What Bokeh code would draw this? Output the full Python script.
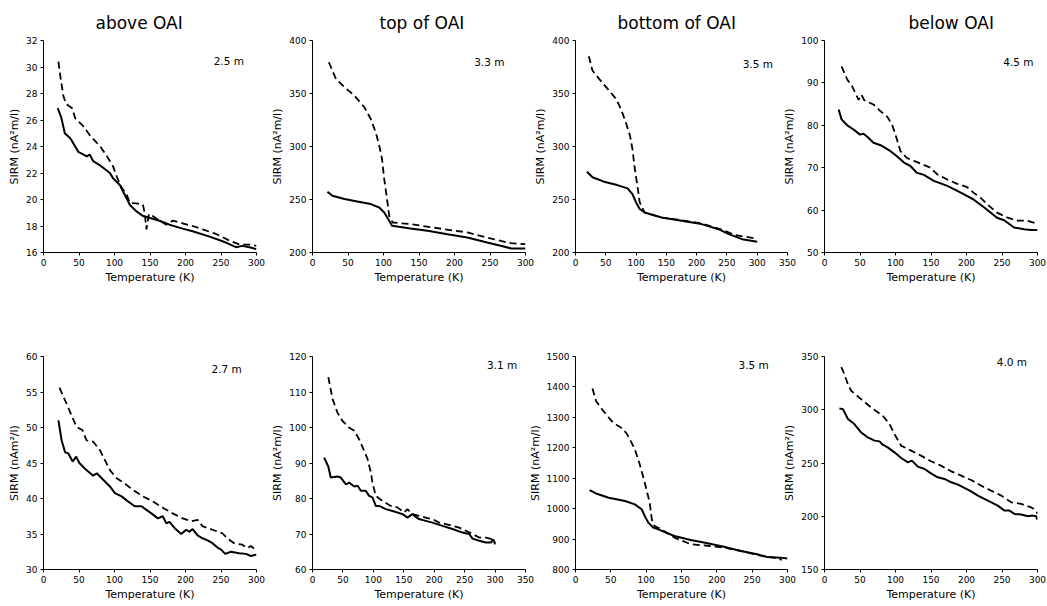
from bokeh.plotting import figure
from bokeh.layouts import row, column
from bokeh.models import Range1d, FixedTicker, Label, Title
from bokeh.embed import file_html
from bokeh.resources import INLINE

# ---------------- data ----------------
column_titles = ["above OAI", "top of OAI", "bottom of OAI", "below OAI"]
depths = ["2.5 m", "3.3 m", "3.5 m", "4.5 m", "2.7 m", "3.1 m", "3.5 m", "4.0 m"]
ylabels = ["SIRM (nA\u00b2m/l)", "SIRM (nA\u00b2m/l)", "SIRM (nA\u00b2m/l)", "SIRM (nA\u00b2m/l)",
           "SIRM (nAm\u00b2/l)", "SIRM (nA\u00b2m/l)", "SIRM (nA\u00b2m/l)", "SIRM (nAm\u00b2/l)"]
xlabel = "Temperature (K)"
x_max = [300, 300, 350, 300, 300, 350, 300, 300]
y_min = [16, 200, 200, 50, 30, 60, 800, 150]
y_max = [32, 400, 400, 100, 60, 120, 1500, 350]
y_step = [2, 50, 50, 10, 5, 10, 100, 50]
x_step = 50

# panel 1: above OAI 2.5 m
s1_T = [20, 25, 30, 38, 49, 61, 65, 70, 79, 93.5, 98, 107.5, 112, 117, 121.5, 131, 140, 150, 163.5, 177.5, 196, 210, 234, 257, 271, 280, 290, 300]
s1_M = [26.9, 26.2, 25.0, 24.6, 23.6, 23.25, 23.4, 22.9, 22.6, 22.0, 21.6, 21.1, 20.6, 20.1, 19.6, 19.1, 18.75, 18.6, 18.4, 18.1, 17.8, 17.6, 17.2, 16.75, 16.4, 16.5, 16.4, 16.25]
d1_T = [21, 24, 28, 32, 40, 45, 55, 66, 80, 89, 98, 103, 110, 117, 121.5, 131, 140, 142.5, 145, 148.5, 154, 163.5, 173, 182, 196, 210, 224, 243, 262, 276, 290, 300]
d1_M = [30.4, 29.2, 27.8, 27.2, 26.9, 26.1, 25.6, 24.8, 24.0, 23.3, 22.5, 21.75, 20.9, 20.4, 19.75, 19.7, 19.6, 19.0, 17.75, 18.9, 18.75, 18.4, 18.1, 18.4, 18.2, 18.0, 17.75, 17.4, 16.9, 16.6, 16.6, 16.5]

# panel 2: top of OAI 3.3 m
s2_T = [21, 28, 45, 63, 82, 94, 101, 108, 112, 138, 162, 190, 218, 246, 265, 280, 300]
s2_M = [257.3, 253.5, 250.4, 248.2, 245.7, 242.5, 237.8, 230.0, 225.2, 222.7, 220.5, 217.3, 214.2, 209.4, 206.3, 203.8, 203.8]
d2_T = [23, 33, 45, 59, 73, 82, 89, 94, 98, 101, 105, 108, 113, 138, 185, 218, 255, 279, 300]
d2_M = [379.5, 363.8, 356.0, 348.0, 337.0, 326.0, 313.4, 300.8, 288.0, 269.3, 250.4, 234.6, 228.3, 226.8, 222.0, 219.0, 212.6, 208.8, 207.9]

# panel 3: bottom of OAI 3.5 m
s3_T = [19, 28, 47, 69, 86, 94, 100, 106, 114, 142, 175, 208, 236, 253, 275, 300]
s3_M = [276.2, 271.0, 266.8, 263.6, 260.5, 255.0, 247.2, 241.0, 237.8, 233.0, 229.9, 226.8, 222.0, 217.3, 212.6, 210.1]
d3_T = [22, 28, 39, 53, 67, 75, 83, 90, 94, 98, 103, 106, 114, 142, 175, 208, 242, 264, 300]
d3_M = [385.2, 371.7, 363.8, 354.3, 344.9, 335.4, 322.8, 310.2, 297.6, 278.7, 259.8, 247.2, 237.8, 233.0, 230.4, 227.4, 221.5, 216.4, 213.0]

# panel 4: below OAI 4.5 m
s4_T = [20, 24, 32, 41, 50, 55, 61, 69, 79, 93, 102, 112, 121, 130, 140, 154, 173, 192, 210, 225, 243, 253, 267, 281, 291, 300]
s4_M = [83.7, 81.4, 80.0, 79.0, 77.8, 78.0, 77.2, 75.9, 75.3, 73.9, 72.7, 71.2, 70.4, 68.8, 68.3, 66.9, 65.7, 64.1, 62.5, 60.6, 58.2, 57.6, 55.9, 55.5, 55.3, 55.3]
d4_T = [24, 32, 39, 48, 52, 56, 69, 79, 88, 95, 100, 107, 116, 126, 135, 149, 159, 173, 187, 201, 210, 220, 229, 243, 258, 272, 286, 300]
d4_M = [93.9, 90.8, 89.2, 86.0, 87.2, 85.9, 84.9, 83.3, 82.1, 80.2, 77.8, 73.9, 72.3, 71.6, 71.0, 70.0, 68.4, 67.2, 66.2, 65.4, 64.1, 62.9, 61.4, 59.4, 58.2, 57.5, 57.5, 56.8]

# panel 5: above OAI 2.7 m
s5_T = [21, 25.5, 30.5, 35, 41, 46, 50.5, 60.5, 70, 75, 82, 86.5, 93.5, 100.5, 110, 119, 128.5, 138, 145, 152, 161, 168, 173, 177.5, 184.5, 194, 201, 205.5, 210, 217, 224, 231, 238, 245, 250, 256, 264, 275.5, 285, 292, 300]
s5_M = [51.0, 48.2, 46.5, 46.35, 45.2, 45.9, 45.0, 44.0, 43.2, 43.55, 42.85, 42.4, 41.7, 40.75, 40.3, 39.6, 38.9, 38.9, 38.4, 37.9, 37.2, 37.5, 36.5, 36.7, 35.85, 35.0, 35.6, 35.3, 35.7, 34.8, 34.4, 34.1, 33.7, 33.1, 32.8, 32.2, 32.5, 32.3, 32.2, 31.9, 32.1]
d5_T = [22.5, 30.5, 39.5, 46.5, 55, 60.5, 70, 79.5, 86.5, 93.5, 103, 114.5, 126, 140, 154, 168, 182, 196, 208, 217, 224, 238, 252, 259, 268.5, 280, 287, 292, 300]
d5_M = [55.6, 53.8, 51.7, 50.1, 49.6, 48.2, 48.0, 46.8, 45.4, 44.0, 42.85, 42.1, 41.2, 40.3, 39.6, 38.7, 37.9, 37.2, 36.8, 37.0, 36.1, 35.6, 35.1, 34.4, 33.7, 33.5, 33.0, 33.3, 32.7]

# panel 6: top of OAI 3.1 m
s6_T = [19, 26, 30, 41, 46.5, 55, 60, 68.5, 74, 79.5, 87.5, 93, 98.5, 104, 109.5, 120.5, 131.5, 148, 156, 164, 175, 186, 197, 213.5, 230, 246.5, 257.5, 263, 274, 285, 293, 297, 300]
s6_M = [91.5, 89.0, 85.9, 86.2, 85.9, 84.0, 84.5, 83.4, 83.6, 82.2, 82.2, 80.75, 80.3, 77.9, 77.9, 77.0, 76.5, 75.6, 74.6, 75.6, 74.2, 73.7, 73.2, 72.3, 71.4, 70.4, 70.0, 68.7, 68.1, 67.6, 67.6, 68.5, 67.4]
d6_T = [26, 33, 41, 49, 60, 68.5, 76.5, 85, 90.5, 96, 98.5, 104, 115, 128.5, 139.5, 150.5, 156, 164, 175, 186, 197, 208, 219, 230, 241, 252, 263, 274, 285, 296, 300]
d6_M = [114.2, 108.0, 104.2, 101.9, 100.0, 99.1, 96.7, 93.4, 91.1, 87.3, 84.5, 80.75, 79.3, 77.9, 77.5, 76.1, 77.0, 75.6, 75.1, 74.6, 74.2, 73.2, 72.8, 72.3, 71.8, 70.9, 70.0, 69.0, 69.0, 68.5, 67.1]

# panel 7: bottom of OAI 3.5 m
s7_T = [20, 29, 47, 70, 84, 93.5, 98, 103, 110, 117, 140, 163, 187, 210, 234, 257, 271, 290, 300]
s7_M = [1061, 1050, 1036, 1025, 1014, 998, 976, 954, 938, 932, 910, 897, 886, 875, 861, 850, 841, 839, 836]
d7_T = [24, 29, 39, 53, 64, 72, 77, 84, 91, 98, 105, 108, 112, 121, 140, 163, 187, 210, 234, 257, 280, 292]
d7_M = [1395, 1354, 1322, 1283, 1267, 1248, 1227, 1195, 1145, 1085, 1020, 965, 943, 932, 905, 883, 878, 872, 861, 848, 839, 832]

# panel 8: below OAI 4.0 m
s8_T = [21, 26, 33, 42, 51.5, 61, 70.5, 77.5, 82, 89, 98.5, 108, 117.5, 123, 131.5, 141, 150, 159.5, 169, 178.5, 188, 197, 206.5, 216, 225, 235, 244, 253.5, 260.5, 267.5, 277, 286.5, 293.5, 298, 300]
s8_M = [301.2, 300.6, 291.25, 286.6, 278.75, 274.0, 271.0, 270.3, 267.2, 264.7, 260.0, 254.7, 250.6, 252.2, 246.6, 244.4, 240.3, 236.6, 235.0, 231.9, 229.7, 226.6, 223.4, 219.4, 216.25, 213.1, 210.0, 205.3, 205.3, 202.2, 201.6, 200.0, 200.6, 200.0, 196.9]
d8_T = [23.5, 26, 33, 37.5, 51.5, 65.5, 82, 91.5, 98.5, 108, 122, 136, 150, 164, 178.5, 192.5, 206.5, 220.5, 235, 249, 263, 277, 291, 298, 300]
d8_M = [340.0, 336.6, 324.0, 317.8, 310.0, 302.2, 294.4, 286.6, 277.2, 266.25, 261.6, 256.9, 251.6, 247.5, 242.2, 238.1, 234.0, 228.75, 224.0, 219.4, 213.1, 211.6, 208.4, 205.3, 202.2]

solid = [(s1_T, s1_M), (s2_T, s2_M), (s3_T, s3_M), (s4_T, s4_M),
         (s5_T, s5_M), (s6_T, s6_M), (s7_T, s7_M), (s8_T, s8_M)]
dashed = [(d1_T, d1_M), (d2_T, d2_M), (d3_T, d3_M), (d4_T, d4_M),
          (d5_T, d5_M), (d6_T, d6_M), (d7_T, d7_M), (d8_T, d8_M)]

# ---------------- layout / style ----------------
FONT = "DejaVu Sans"
# per column: width, left border, right border, left margin (overlap)
col_geom = [(268, 43, 12, 0), (273, 48, 12, -4), (277, 53, 12, -15), (270, 47, 10, -22)]
# per row: height, top border, bottom border
row_geom = [(292, 40, 40), (311, 64, 34)]
# depth label positions, as fractions of the frame
depth_pos = [(0.87, 0.905), (0.83, 0.90), (0.86, 0.89), (0.91, 0.90),
             (0.86, 0.94), (0.89, 0.96), (0.84, 0.96), (0.88, 0.975)]
title_offset = [52, 67, 42, 84]


def ticks(lo, hi, step):
    out = []
    v = lo
    while v <= hi + 1e-9:
        out.append(float(v))
        v += step
    return out


def make_panel(i):
    r, c = divmod(i, 4)
    W, Lb, Rb, ml = col_geom[c]
    H, Tb, Bb = row_geom[r]
    xmax, ymin, ymax = x_max[i], y_min[i], y_max[i]
    p = figure(width=W, height=H, output_backend="svg", toolbar_location=None,
               title=None,
               x_range=Range1d(0, xmax), y_range=Range1d(ymin, ymax),
               min_border_left=Lb, min_border_right=Rb,
               min_border_top=Tb, min_border_bottom=Bb,
               margin=(0, 0, 0, ml))
    p.grid.visible = False
    p.outline_line_color = None
    p.border_fill_color = None
    p.background_fill_color = None

    p.xaxis.ticker = FixedTicker(ticks=ticks(0, xmax, x_step))
    p.yaxis.ticker = FixedTicker(ticks=ticks(ymin, ymax, y_step[i]))
    p.xaxis.axis_label = xlabel
    p.yaxis.axis_label = ylabels[i]
    for ax in (p.xaxis[0], p.yaxis[0]):
        ax.axis_line_color = "black"
        ax.axis_line_width = 1
        ax.major_tick_line_color = "black"
        ax.major_tick_out = 3
        ax.major_tick_in = 0
        ax.minor_tick_line_color = None
        ax.major_label_text_font = FONT
        ax.major_label_text_font_size = "9px"
        ax.major_label_text_color = "black"
        ax.major_label_standoff = 3
        ax.axis_label_text_font = FONT
        ax.axis_label_text_font_size = "11px"
        ax.axis_label_text_font_style = "normal"
        ax.axis_label_text_color = "black"
        ax.axis_label_standoff = 2

    sT, sM = solid[i]
    dT, dM = dashed[i]
    p.line(dT, dM, line_color="black", line_width=1.8, line_dash="7 4")
    p.line(sT, sM, line_color="black", line_width=2)

    fx, fy = depth_pos[i]
    p.add_layout(Label(x=fx * xmax, y=ymin + fy * (ymax - ymin), text=depths[i],
                       text_align="center", text_baseline="middle",
                       text_font=FONT, text_font_size="10.5px", text_color="black"))
    if r == 0:
        p.add_layout(Title(text=column_titles[c], align="left", offset=title_offset[c],
                           standoff=16, text_font=FONT, text_font_size="17px",
                           text_font_style="normal", text_color="black"), "above")
    return p


panels = [make_panel(i) for i in range(8)]
layout = column(row(*panels[:4]), row(*panels[4:]))

open("out.html", "w").write(file_html(layout, INLINE))
